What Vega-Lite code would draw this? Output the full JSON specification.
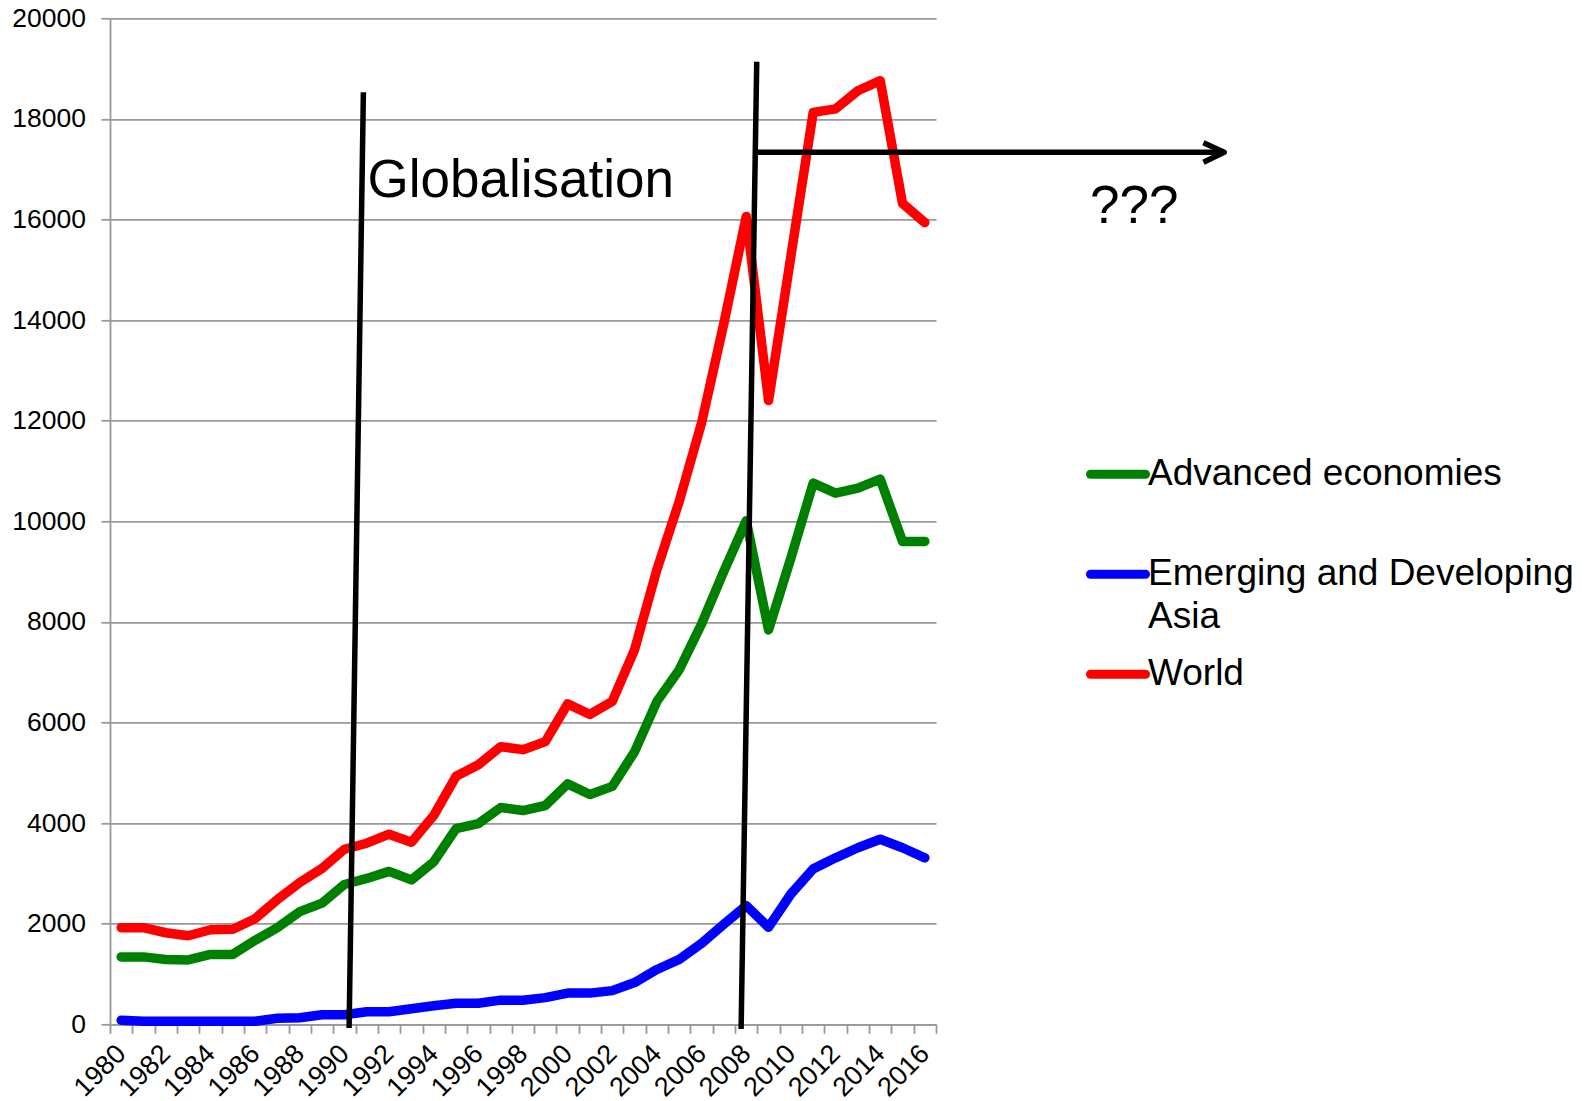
{
  "$schema": "https://vega.github.io/schema/vega-lite/v6.json",
  "width": 826,
  "height": 1006,
  "autosize": {"type": "none"},
  "padding": {"left": 110, "top": 18.3, "right": 653, "bottom": 76.7},
  "background": "white",
  "config": {"view": {"stroke": null}, "font": "Liberation Sans"},
  "datasets": {
    "series": [
      {"year": 1980, "series": "World", "value": 1920},
      {"year": 1981, "series": "World", "value": 1920},
      {"year": 1982, "series": "World", "value": 1820},
      {"year": 1983, "series": "World", "value": 1760},
      {"year": 1984, "series": "World", "value": 1880},
      {"year": 1985, "series": "World", "value": 1890},
      {"year": 1986, "series": "World", "value": 2100},
      {"year": 1987, "series": "World", "value": 2480},
      {"year": 1988, "series": "World", "value": 2820},
      {"year": 1989, "series": "World", "value": 3100},
      {"year": 1990, "series": "World", "value": 3480},
      {"year": 1991, "series": "World", "value": 3600},
      {"year": 1992, "series": "World", "value": 3780},
      {"year": 1993, "series": "World", "value": 3620},
      {"year": 1994, "series": "World", "value": 4150},
      {"year": 1995, "series": "World", "value": 4930},
      {"year": 1996, "series": "World", "value": 5160},
      {"year": 1997, "series": "World", "value": 5520},
      {"year": 1998, "series": "World", "value": 5460},
      {"year": 1999, "series": "World", "value": 5620},
      {"year": 2000, "series": "World", "value": 6370},
      {"year": 2001, "series": "World", "value": 6160},
      {"year": 2002, "series": "World", "value": 6420},
      {"year": 2003, "series": "World", "value": 7450},
      {"year": 2004, "series": "World", "value": 9040},
      {"year": 2005, "series": "World", "value": 10400},
      {"year": 2006, "series": "World", "value": 11960},
      {"year": 2007, "series": "World", "value": 13940},
      {"year": 2008, "series": "World", "value": 16060},
      {"year": 2009, "series": "World", "value": 12400},
      {"year": 2010, "series": "World", "value": 15270},
      {"year": 2011, "series": "World", "value": 18130},
      {"year": 2012, "series": "World", "value": 18200},
      {"year": 2013, "series": "World", "value": 18560},
      {"year": 2014, "series": "World", "value": 18760},
      {"year": 2015, "series": "World", "value": 16320},
      {"year": 2016, "series": "World", "value": 15940},
      {"year": 1980, "series": "Advanced economies", "value": 1340},
      {"year": 1981, "series": "Advanced economies", "value": 1340},
      {"year": 1982, "series": "Advanced economies", "value": 1290},
      {"year": 1983, "series": "Advanced economies", "value": 1280},
      {"year": 1984, "series": "Advanced economies", "value": 1390},
      {"year": 1985, "series": "Advanced economies", "value": 1390},
      {"year": 1986, "series": "Advanced economies", "value": 1670},
      {"year": 1987, "series": "Advanced economies", "value": 1920},
      {"year": 1988, "series": "Advanced economies", "value": 2240},
      {"year": 1989, "series": "Advanced economies", "value": 2410},
      {"year": 1990, "series": "Advanced economies", "value": 2780},
      {"year": 1991, "series": "Advanced economies", "value": 2900},
      {"year": 1992, "series": "Advanced economies", "value": 3040},
      {"year": 1993, "series": "Advanced economies", "value": 2870},
      {"year": 1994, "series": "Advanced economies", "value": 3230},
      {"year": 1995, "series": "Advanced economies", "value": 3890},
      {"year": 1996, "series": "Advanced economies", "value": 3990},
      {"year": 1997, "series": "Advanced economies", "value": 4310},
      {"year": 1998, "series": "Advanced economies", "value": 4250},
      {"year": 1999, "series": "Advanced economies", "value": 4350},
      {"year": 2000, "series": "Advanced economies", "value": 4780},
      {"year": 2001, "series": "Advanced economies", "value": 4570},
      {"year": 2002, "series": "Advanced economies", "value": 4730},
      {"year": 2003, "series": "Advanced economies", "value": 5420},
      {"year": 2004, "series": "Advanced economies", "value": 6420},
      {"year": 2005, "series": "Advanced economies", "value": 7050},
      {"year": 2006, "series": "Advanced economies", "value": 7960},
      {"year": 2007, "series": "Advanced economies", "value": 9010},
      {"year": 2008, "series": "Advanced economies", "value": 10010},
      {"year": 2009, "series": "Advanced economies", "value": 7840},
      {"year": 2010, "series": "Advanced economies", "value": 9270},
      {"year": 2011, "series": "Advanced economies", "value": 10760},
      {"year": 2012, "series": "Advanced economies", "value": 10560},
      {"year": 2013, "series": "Advanced economies", "value": 10660},
      {"year": 2014, "series": "Advanced economies", "value": 10840},
      {"year": 2015, "series": "Advanced economies", "value": 9600},
      {"year": 2016, "series": "Advanced economies", "value": 9600},
      {"year": 1980, "series": "Emerging and Developing Asia", "value": 80},
      {"year": 1981, "series": "Emerging and Developing Asia", "value": 60},
      {"year": 1982, "series": "Emerging and Developing Asia", "value": 60},
      {"year": 1983, "series": "Emerging and Developing Asia", "value": 60},
      {"year": 1984, "series": "Emerging and Developing Asia", "value": 60},
      {"year": 1985, "series": "Emerging and Developing Asia", "value": 60},
      {"year": 1986, "series": "Emerging and Developing Asia", "value": 60},
      {"year": 1987, "series": "Emerging and Developing Asia", "value": 120},
      {"year": 1988, "series": "Emerging and Developing Asia", "value": 130},
      {"year": 1989, "series": "Emerging and Developing Asia", "value": 190},
      {"year": 1990, "series": "Emerging and Developing Asia", "value": 190},
      {"year": 1991, "series": "Emerging and Developing Asia", "value": 250},
      {"year": 1992, "series": "Emerging and Developing Asia", "value": 250},
      {"year": 1993, "series": "Emerging and Developing Asia", "value": 310},
      {"year": 1994, "series": "Emerging and Developing Asia", "value": 370},
      {"year": 1995, "series": "Emerging and Developing Asia", "value": 420},
      {"year": 1996, "series": "Emerging and Developing Asia", "value": 420},
      {"year": 1997, "series": "Emerging and Developing Asia", "value": 480},
      {"year": 1998, "series": "Emerging and Developing Asia", "value": 480},
      {"year": 1999, "series": "Emerging and Developing Asia", "value": 530},
      {"year": 2000, "series": "Emerging and Developing Asia", "value": 620},
      {"year": 2001, "series": "Emerging and Developing Asia", "value": 620},
      {"year": 2002, "series": "Emerging and Developing Asia", "value": 670},
      {"year": 2003, "series": "Emerging and Developing Asia", "value": 830},
      {"year": 2004, "series": "Emerging and Developing Asia", "value": 1090},
      {"year": 2005, "series": "Emerging and Developing Asia", "value": 1290},
      {"year": 2006, "series": "Emerging and Developing Asia", "value": 1610},
      {"year": 2007, "series": "Emerging and Developing Asia", "value": 1990},
      {"year": 2008, "series": "Emerging and Developing Asia", "value": 2360},
      {"year": 2009, "series": "Emerging and Developing Asia", "value": 1930},
      {"year": 2010, "series": "Emerging and Developing Asia", "value": 2590},
      {"year": 2011, "series": "Emerging and Developing Asia", "value": 3090},
      {"year": 2012, "series": "Emerging and Developing Asia", "value": 3310},
      {"year": 2013, "series": "Emerging and Developing Asia", "value": 3510},
      {"year": 2014, "series": "Emerging and Developing Asia", "value": 3680},
      {"year": 2015, "series": "Emerging and Developing Asia", "value": 3510},
      {"year": 2016, "series": "Emerging and Developing Asia", "value": 3310}
    ],
    "annotations": [
      {"seg": "globalisation", "o": 1, "x": 1990.85, "y": 18530},
      {"seg": "globalisation", "o": 2, "x": 1990.21, "y": -74},
      {"seg": "crisis", "o": 1, "x": 2008.47, "y": 19137},
      {"seg": "crisis", "o": 2, "x": 2007.77, "y": -93},
      {"seg": "arrow", "o": 1, "x": 2008.4, "y": 17336},
      {"seg": "arrow", "o": 2, "x": 2029.3, "y": 17336},
      {"seg": "arrowhead", "o": 1, "x": 2028.48, "y": 17527},
      {"seg": "arrowhead", "o": 2, "x": 2029.41, "y": 17336},
      {"seg": "arrowhead", "o": 3, "x": 2028.48, "y": 17137}
    ],
    "notes": [
      {"text": "Globalisation", "x": 1991.04, "y": 16447},
      {"text": "???", "x": 2023.4, "y": 15925}
    ]
  },
  "layer": [
    {
      "data": {"name": "series"},
      "mark": {"type": "line", "strokeWidth": 9.5, "strokeCap": "round", "strokeJoin": "round"},
      "encoding": {
        "x": {
          "field": "year",
          "type": "quantitative",
          "scale": {"domain": [1979.5, 2016.5], "nice": false, "zero": false},
          "axis": {
            "title": null,
            "grid": false,
            "tickCount": 60,
            "values": [1979.5, 1980.5, 1981.5, 1982.5, 1983.5, 1984.5, 1985.5, 1986.5, 1987.5, 1988.5, 1989.5, 1990.5, 1991.5, 1992.5, 1993.5, 1994.5, 1995.5, 1996.5, 1997.5, 1998.5, 1999.5, 2000.5, 2001.5, 2002.5, 2003.5, 2004.5, 2005.5, 2006.5, 2007.5, 2008.5, 2009.5, 2010.5, 2011.5, 2012.5, 2013.5, 2014.5, 2015.5, 2016.5],
            "labelExpr": "(datum.value - 0.5) % 2 == 0 ? format(datum.value - 0.5, 'd') : ''",
            "labelOffset": -11.16,
            "labelAngle": -45,
            "labelAlign": "right",
            "labelBaseline": "middle",
            "labelFontSize": 27,
            "labelFont": "Liberation Sans",
            "labelColor": "black",
            "labelPadding": 16,
            "labelOverlap": false,
            "labelFlush": false,
            "labelBound": false,
            "tickSize": 9,
            "tickColor": "#999999",
            "tickWidth": 1.8,
            "domainColor": "#999999",
            "domainWidth": 1.8
          }
        },
        "y": {
          "field": "value",
          "type": "quantitative",
          "scale": {"domain": [0, 20000], "nice": false},
          "axis": {
            "title": null,
            "tickCount": 20,
            "values": [0, 2000, 4000, 6000, 8000, 10000, 12000, 14000, 16000, 18000, 20000],
            "format": "d",
            "labelFontSize": 26.5,
            "labelFont": "Liberation Sans",
            "labelColor": "black",
            "labelPadding": 15.5,
            "labelOverlap": false,
            "labelFlush": false,
            "tickSize": 9,
            "tickColor": "#999999",
            "tickWidth": 1.8,
            "domainColor": "#999999",
            "domainWidth": 1.8,
            "gridColor": "#999999",
            "gridWidth": 1.8
          }
        },
        "color": {
          "field": "series",
          "type": "nominal",
          "scale": {
            "domain": ["Advanced economies", "Emerging and Developing Asia", "World"],
            "range": ["#008000", "#0000ff", "#ff0000"]
          },
          "legend": {
            "title": null,
            "orient": "none",
            "legendX": 976,
            "legendY": 424,
            "padding": 0,
            "symbolType": "stroke",
            "symbolSize": 3025,
            "symbolStrokeWidth": 9,
            "labelFontSize": 37,
            "labelFont": "Liberation Sans",
            "labelColor": "black",
            "labelOffset": -2,
            "labelLimit": 0,
            "rowPadding": 7,
            "labelExpr": "datum.label == 'Emerging and Developing Asia' ? ['Emerging and Developing', 'Asia'] : [datum.label, '']",
            "encode": {
              "labels": {"update": {"lineHeight": {"value": 43}}},
              "symbols": {"update": {"strokeCap": {"value": "round"}}}
            }
          }
        }
      }
    },
    {
      "data": {"name": "annotations"},
      "mark": {"type": "line", "color": "black", "strokeWidth": 5.5, "strokeCap": "butt", "strokeJoin": "round"},
      "encoding": {
        "x": {"field": "x", "type": "quantitative"},
        "y": {"field": "y", "type": "quantitative"},
        "detail": {"field": "seg"},
        "order": {"field": "o"}
      }
    },
    {
      "data": {"name": "notes"},
      "mark": {"type": "text", "fontSize": 53, "font": "Liberation Sans", "align": "left", "baseline": "alphabetic", "color": "black"},
      "encoding": {
        "x": {"field": "x", "type": "quantitative"},
        "y": {"field": "y", "type": "quantitative"},
        "text": {"field": "text"}
      }
    }
  ]
}
